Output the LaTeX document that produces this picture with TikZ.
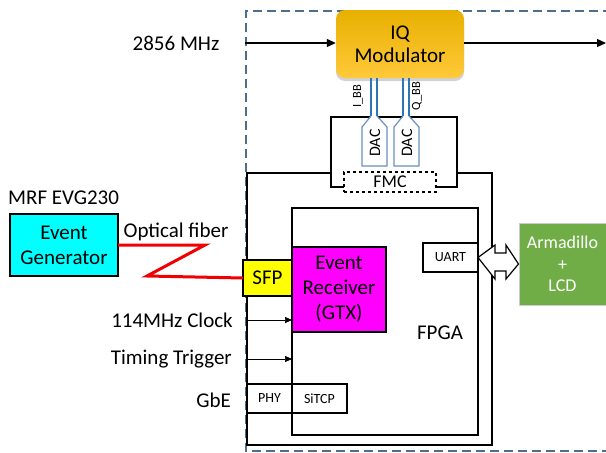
\documentclass[tikz,border=0pt]{standalone}
\usepackage{fontspec}
\setmainfont{Carlito}
\usetikzlibrary{arrows.meta,shadows}
\definecolor{dashblue}{HTML}{4E6E8E}
\definecolor{dacblue}{HTML}{6A8FC0}
\definecolor{bbblue}{HTML}{2E75B6}
\definecolor{evgcyan}{HTML}{00FFFF}
\definecolor{ermag}{HTML}{FF00FF}
\definecolor{sfpyel}{HTML}{FFFF00}
\definecolor{armgreen}{HTML}{70AD47}
\definecolor{modtop}{HTML}{E8B000}
\definecolor{modbot}{HTML}{FFC93A}
\definecolor{fibred}{HTML}{F00000}
\tikzset{
  bigfont/.style={font=\fontsize{21}{25}\selectfont},
  smallfont/.style={font=\fontsize{14}{16}\selectfont},
  blk/.style={draw=black, line width=1.3pt, inner sep=0pt, outer sep=0pt},
  lbl/.style={inner sep=0pt, bigfont},
  sig/.style={draw=black, line width=0.7pt, -{Triangle[length=7pt,width=6pt]}},
  rfsig/.style={draw=black, line width=1.2pt, -{Triangle[length=9pt,width=8pt]}},
}
\begin{document}
\begin{tikzpicture}[x=1pt,y=-1pt]
\useasboundingbox (0,0) rectangle (606,453);
\clip (0,0) rectangle (606,453);
\fill[white] (0,0) rectangle (606,453);
% outer dashed enclosure
\draw[dashblue, line width=2pt, dash pattern=on 9pt off 5pt] (640,11) -- (246,11) -- (246,451) -- (640,451);

% board and FPGA
\draw[blk, fill=white] (247,173) rectangle (492,445);
\node[blk, fill=white, minimum width=186pt, minimum height=227pt] (fpga) at (385,321.5) {};
\node[lbl] (fpgalbl) at (440,333) {FPGA};

% mezzanine card
\node[blk, fill=white, minimum width=126pt, minimum height=70pt] (mezz) at (394,152) {};
\node[draw=black, line width=1.2pt, dashed, fill=white, minimum width=92pt, minimum height=20pt, inner sep=0pt, font=\fontsize{18}{20}\selectfont] (fmc) at (390,182) {FMC};

% IQ modulator
\node[rounded corners=9pt, top color=modtop, bottom color=modbot, draw=none,
  minimum width=128pt, minimum height=68pt, inner sep=0pt, align=center,
  drop shadow={opacity=0.35, shadow xshift=0pt, shadow yshift=-3pt},
  font=\fontsize{21}{23}\selectfont] (mod) at (400,44) {IQ\\Modulator};

% DACs
\draw[dacblue, line width=1.2pt, fill=white] (371,116) -- (362,127) -- (362,166) -- (387,166) -- (387,127) -- (377,116);
\draw[dacblue, line width=1.2pt, fill=white] (403,116) -- (394,127) -- (394,166) -- (419,166) -- (419,127) -- (409,116);
\node[rotate=90, inner sep=0pt, font=\fontsize{16}{18}\selectfont] (dac1) at (375,143) {DAC};
\node[rotate=90, inner sep=0pt, font=\fontsize{16}{18}\selectfont] (dac2) at (407,143) {DAC};
\draw[bbblue, line width=1.2pt] (371,78) -- (371,116) (377,78) -- (377,116);
\draw[bbblue, line width=1.2pt] (403,78) -- (403,116) (409,78) -- (409,116);
\node[rotate=90, inner sep=0pt, font=\fontsize{12.5}{14}\selectfont] (ibb) at (358,96) {I\_BB};
\node[rotate=90, inner sep=0pt, font=\fontsize{12.5}{14}\selectfont] (qbb) at (417,96) {Q\_BB};

% RF input/output
\node[lbl] (rfin) at (176,43) {2856 MHz};
\coordinate (rfstart) at (245,43);
\coordinate (rfend) at (606,43);
\draw[rfsig] (rfstart) -- (rfstart -| mod.west);
\draw[rfsig] (mod.east |- rfend) -- (rfend);

% Event generator
\node[lbl, anchor=west] (evglbl) at (8,198) {MRF EVG230};
\node[blk, line width=1.2pt, fill=evgcyan, minimum width=108pt, minimum height=62pt, align=center, bigfont] (evg) at (64,245) {Event\\Generator};
\node[lbl] (fiblbl) at (176,232) {Optical fiber};

% SFP and event receiver
\node[blk, fill=sfpyel, minimum width=49pt, minimum height=36pt, bigfont] (sfp) at (267.5,278) {SFP};
\node[blk, fill=ermag, minimum width=94pt, minimum height=85pt, align=center, bigfont] (er) at (339,289.5) {Event\\Receiver\\(GTX)};
\draw[fibred, line width=3pt, line join=miter] (evg.east |- 0,245) -- (205,245) -- (147,276) -- (sfp.west);

% UART and Armadillo
\node[blk, fill=white, minimum width=55pt, minimum height=29pt, smallfont] (uart) at (450.5,257.5) {UART};
\node[draw=black!20, line width=1pt, fill=armgreen, text=white, minimum width=87pt, minimum height=82pt, inner sep=0pt, align=center, font=\fontsize{18}{21.5}\selectfont] (arm) at (562.5,264) {Armadillo\\+\\LCD};
\draw[black, line width=1.2pt, fill=white, line join=miter]
  (uart.east) -- (495,245) -- (495,253) -- (506,253) -- (506,245) -- (arm.west) -- (506,279) -- (506,271) -- (495,271) -- (495,279) -- cycle;

% clock / trigger inputs
\node[lbl, anchor=east] (clklbl) at (233,320) {114MHz Clock};
\node[lbl, anchor=east] (trglbl) at (232,359) {Timing Trigger};
\node[lbl, anchor=east] (gbelbl) at (231,400) {GbE};
\coordinate (clkin) at (247,320);
\coordinate (trgin) at (247,359);
\draw[sig] (clkin) -- (clkin -| fpga.west);
\draw[sig] (trgin) -- (trgin -| fpga.west);

% PHY / SiTCP
\node[blk, fill=white, minimum width=45pt, minimum height=29pt, smallfont] (phy) at (269.5,398.5) {PHY};
\node[blk, fill=white, minimum width=55pt, minimum height=29pt, smallfont] (sitcp) at (319.5,398.5) {SiTCP};
\end{tikzpicture}
\end{document}
